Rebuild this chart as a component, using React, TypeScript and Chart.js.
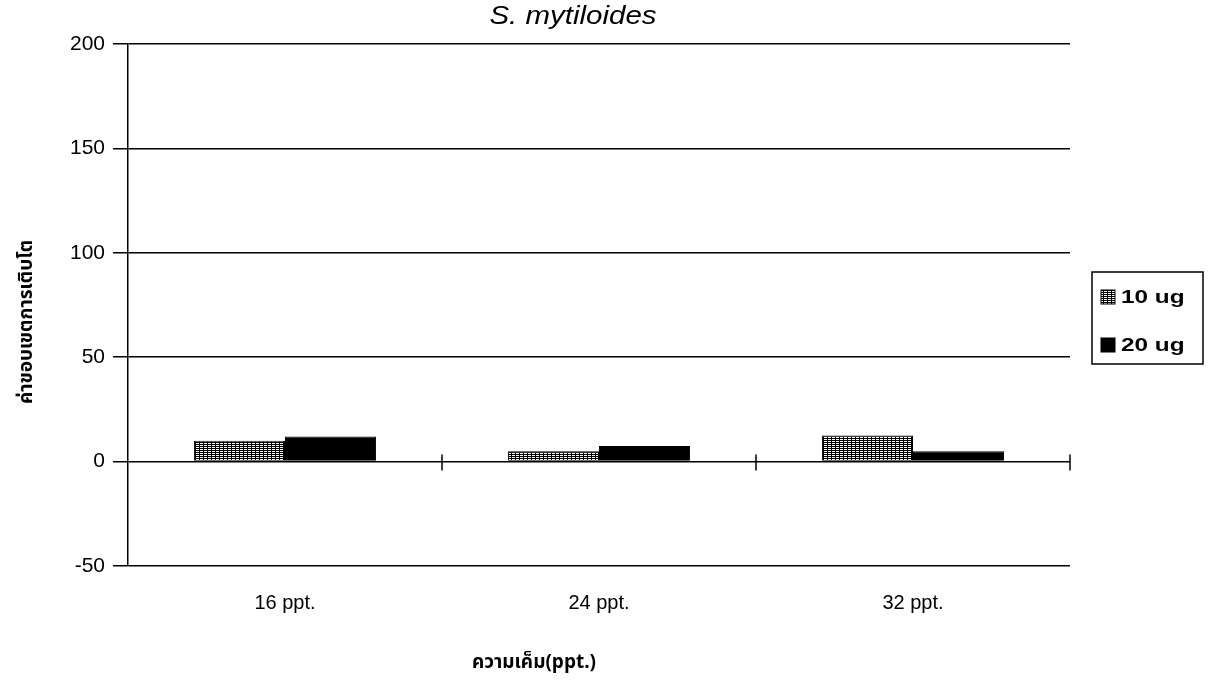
import React, { useEffect, useRef } from 'react';
import { Chart, registerables } from 'chart.js';

Chart.register(...registerables);

// Growth values per salinity level
const categories = ['16 ppt.', '24 ppt.', '32 ppt.'];
const series10ug = [10, 5, 12.5];
const series20ug = [12, 7.5, 5];
const seriesLabels = ['10 ug', '20 ug'];
const yTicks = [-50, 0, 50, 100, 150, 200];

const chartTitle = 'S. mytiloides';
const xTitle = 'ความเค็ม(ppt.)';
const yTitle = 'ค่าขอบเขตการเติบโต';

const LATIN = '"Liberation Sans", Arial, sans-serif';
const THAI = '"Noto Sans Thai", "Loma", "Garuda", "Liberation Sans", sans-serif';

// Dotted hatch used for the 10 ug series
function makeDots(): CanvasPattern | string {
  const tile = document.createElement('canvas');
  tile.width = 4;
  tile.height = 2;
  const c = tile.getContext('2d');
  if (!c) return '#666';
  c.fillStyle = '#000';
  c.fillRect(0, 0, 4, 2);
  c.fillStyle = '#fff';
  c.fillRect(0, 1, 3, 1);
  const p = c.createPattern(tile, 'repeat');
  return p || '#666';
}

// Text drawn with a slight horizontal stretch
function wideText(ctx: CanvasRenderingContext2D, text: string, x: number, y: number, sx: number) {
  ctx.save();
  ctx.translate(x, y);
  ctx.scale(sx, 1);
  ctx.fillText(text, 0, 0);
  ctx.restore();
}

const decorPlugin = {
  id: 'decor',
  afterDraw(chart: any) {
    const { ctx, scales } = chart;
    const x = scales.x;
    const y = scales.y;
    ctx.save();
    ctx.fillStyle = '#000';
    ctx.strokeStyle = '#000';

    // Title
    ctx.font = `italic 25px ${LATIN}`;
    ctx.textAlign = 'center';
    ctx.textBaseline = 'middle';
    wideText(ctx, chartTitle, 573, 17, 1.18);

    // X axis title
    ctx.font = `bold 19px ${THAI}`;
    ctx.fillText(xTitle, 534, 664);

    // Y axis title
    ctx.save();
    ctx.translate(28, 322);
    ctx.rotate(-Math.PI / 2);
    ctx.font = `bold 19px ${THAI}`;
    ctx.fillText(yTitle, 0, 0);
    ctx.restore();

    // Category boundary marks on the zero line
    const y0 = y.getPixelForValue(0);
    ctx.lineWidth = 1.5;
    for (let i = 0; i < categories.length; i++) {
      const px = x.getPixelForValue(i + 0.5);
      ctx.beginPath();
      ctx.moveTo(px, y0 - 7);
      ctx.lineTo(px, y0 + 9);
      ctx.stroke();
    }

    // Legend
    const lx = 1092, ly = 272, lw = 111, lh = 92;
    ctx.lineWidth = 1.5;
    ctx.strokeRect(lx, ly, lw, lh);
    const itemsY = [297, 345];
    ctx.font = `bold 19px ${LATIN}`;
    ctx.textAlign = 'left';
    chart.data.datasets.forEach((ds: any, i: number) => {
      const cy = itemsY[i];
      ctx.fillStyle = ds.backgroundColor;
      ctx.fillRect(lx + 9, cy - 7, 14, 14);
      ctx.lineWidth = 1;
      ctx.strokeRect(lx + 9, cy - 7, 14, 14);
      ctx.fillStyle = '#000';
      wideText(ctx, ds.label, lx + 29, cy + 1, 1.28);
    });
    ctx.restore();
  },
};

export default function App() {
  const ref = useRef<HTMLCanvasElement | null>(null);

  useEffect(() => {
    if (!ref.current) return;
    const dots = makeDots();
    const chart = new Chart(ref.current, {
      type: 'bar',
      data: {
        labels: categories,
        datasets: [
          {
            label: seriesLabels[0],
            data: series10ug,
            backgroundColor: dots as any,
            borderColor: '#000',
            borderWidth: 1,
          },
          {
            label: seriesLabels[1],
            data: series20ug,
            backgroundColor: '#000',
            borderColor: '#000',
            borderWidth: 1,
          },
        ],
      },
      options: {
        animation: false,
        responsive: true,
        maintainAspectRatio: false,
        layout: { padding: { top: 44, right: 139, left: 0, bottom: 0 } },
        datasets: { bar: { categoryPercentage: 0.58, barPercentage: 1 } },
        plugins: {
          legend: { display: false },
          title: { display: false },
          tooltip: { enabled: false },
        },
        scales: {
          x: {
            position: 'bottom',
            offset: true,
            afterFit: (s: any) => { s.height = 121; },
            grid: { display: false, drawTicks: false },
            border: { display: false },
            ticks: {
              color: '#000',
              padding: 25,
              font: { family: LATIN, size: 20 },
              maxRotation: 0,
            },
          },
          y: {
            position: 'left',
            min: yTicks[0],
            max: yTicks[yTicks.length - 1],
            afterFit: (s: any) => { s.width = 128; },
            afterBuildTicks: (s: any) => { s.ticks = yTicks.map((v) => ({ value: v })); },
            grid: { color: '#000', lineWidth: 1.5, tickLength: 15, tickColor: '#000' },
            border: { display: true, color: '#000', width: 1.5 },
            ticks: {
              color: '#000',
              padding: 8,
              font: { family: LATIN, size: 21 },
            },
          },
        },
      },
      plugins: [decorPlugin],
    });
    return () => chart.destroy();
  }, []);

  return (
    <div style={{ position: 'fixed', left: 0, top: 0, width: 1209, height: 687, background: '#fff' }}>
      <canvas ref={ref} />
    </div>
  );
}
